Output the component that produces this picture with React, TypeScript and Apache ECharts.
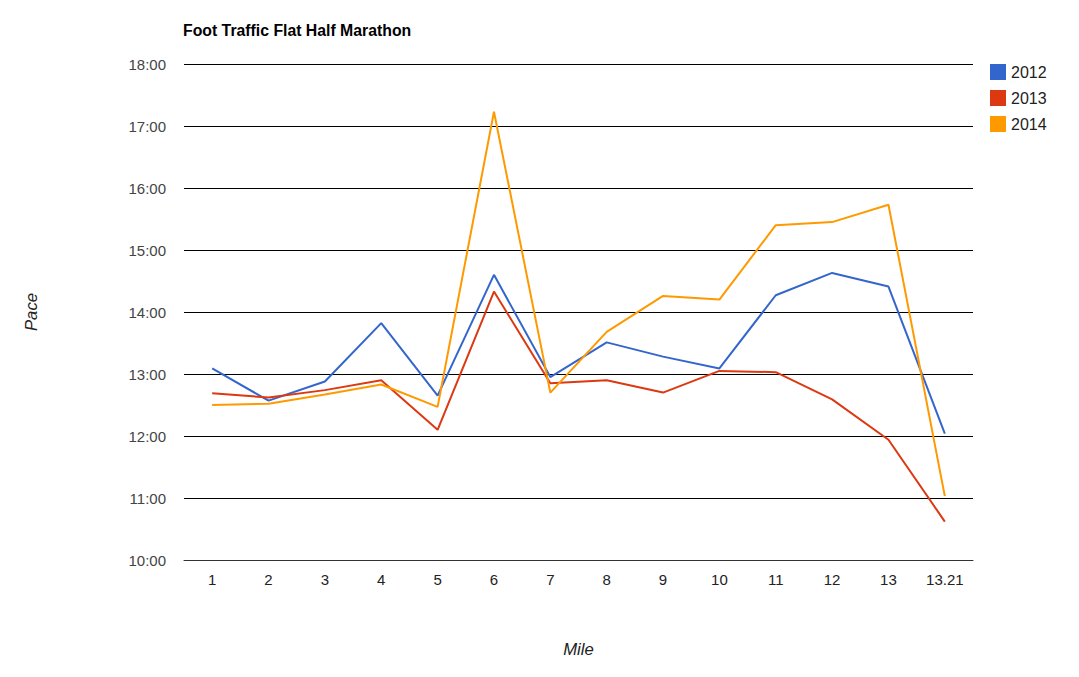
import React, { useEffect, useRef } from "react";
import * as echarts from "echarts";

const miles = ["1", "2", "3", "4", "5", "6", "7", "8", "9", "10", "11", "12", "13", "13.21"];
const pace2012 = [13.09, 12.57, 12.88, 13.82, 12.65, 14.6, 12.95, 13.51, 13.28, 13.09, 14.27, 14.63, 14.41, 12.04];
const pace2013 = [12.69, 12.62, 12.74, 12.9, 12.1, 14.33, 12.85, 12.9, 12.7, 13.05, 13.03, 12.59, 11.94, 10.62];
const pace2014 = [12.5, 12.52, 12.67, 12.83, 12.47, 17.23, 12.7, 13.68, 14.26, 14.2, 15.4, 15.45, 15.73, 11.03];
const seriesNames = ["2012", "2013", "2014"];
const colors = ["#3366cc", "#dc3912", "#ff9900"];

const FONT = "'Liberation Sans', Arial, sans-serif";

function fmt(v: number): string {
  const m = Math.floor(v);
  const s = Math.round((v - m) * 60);
  return m + ":" + (s < 10 ? "0" + s : String(s));
}

export default function App() {
  const ref = useRef<HTMLDivElement>(null);
  useEffect(() => {
    if (!ref.current) return;
    const chart = echarts.init(ref.current, undefined, { renderer: "svg" });
    const data = [pace2012, pace2013, pace2014];
    chart.setOption({
      animation: false,
      backgroundColor: "#ffffff",
      textStyle: { fontFamily: FONT },
      title: {
        text: "Foot Traffic Flat Half Marathon",
        left: 183,
        top: 22,
        padding: 0,
        textStyle: { fontFamily: FONT, fontSize: 15.8, fontWeight: "bold", color: "#000" },
      },
      legend: {
        orient: "vertical",
        left: 990,
        top: 64,
        padding: 0,
        itemWidth: 16,
        itemHeight: 16,
        itemGap: 10,
        icon: "rect",
        data: seriesNames,
        textStyle: { fontFamily: FONT, fontSize: 16, color: "#222" },
      },
      grid: { left: 184, right: 106, top: 64, bottom: 117, containLabel: false },
      xAxis: {
        type: "category",
        data: miles,
        boundaryGap: true,
        name: "Mile",
        nameLocation: "middle",
        nameGap: 81,
        nameTextStyle: { fontFamily: FONT, fontSize: 16.7, fontStyle: "italic", color: "#222" },
        axisLine: { show: true, lineStyle: { color: "#333", width: 1 } },
        axisTick: { show: false },
        axisLabel: { margin: 12, fontFamily: FONT, fontSize: 15, color: "#222" },
        splitLine: { show: false },
      },
      yAxis: {
        type: "value",
        min: 10,
        max: 18,
        interval: 1,
        name: "Pace",
        nameLocation: "middle",
        nameGap: 144,
        nameRotate: 90,
        nameTextStyle: { fontFamily: FONT, fontSize: 16.7, fontStyle: "italic", color: "#222" },
        axisLine: { show: false },
        axisTick: { show: false },
        axisLabel: {
          margin: 18,
          fontFamily: FONT,
          fontSize: 15,
          color: "#444",
          formatter: (v: number) => fmt(v),
        },
        splitLine: { show: true, lineStyle: { color: "#000", width: 1 } },
      },
      series: seriesNames.map((n, i) => ({
        name: n,
        type: "line",
        data: data[i],
        showSymbol: false,
        symbol: "none",
        lineStyle: { color: colors[i], width: 2 },
        itemStyle: { color: colors[i] },
        z: 3 + i,
      })),
    });
    return () => chart.dispose();
  }, []);
  return (
    <div
      ref={ref}
      style={{ position: "fixed", left: 0, top: 0, width: 1079, height: 677, background: "#fff" }}
    />
  );
}
